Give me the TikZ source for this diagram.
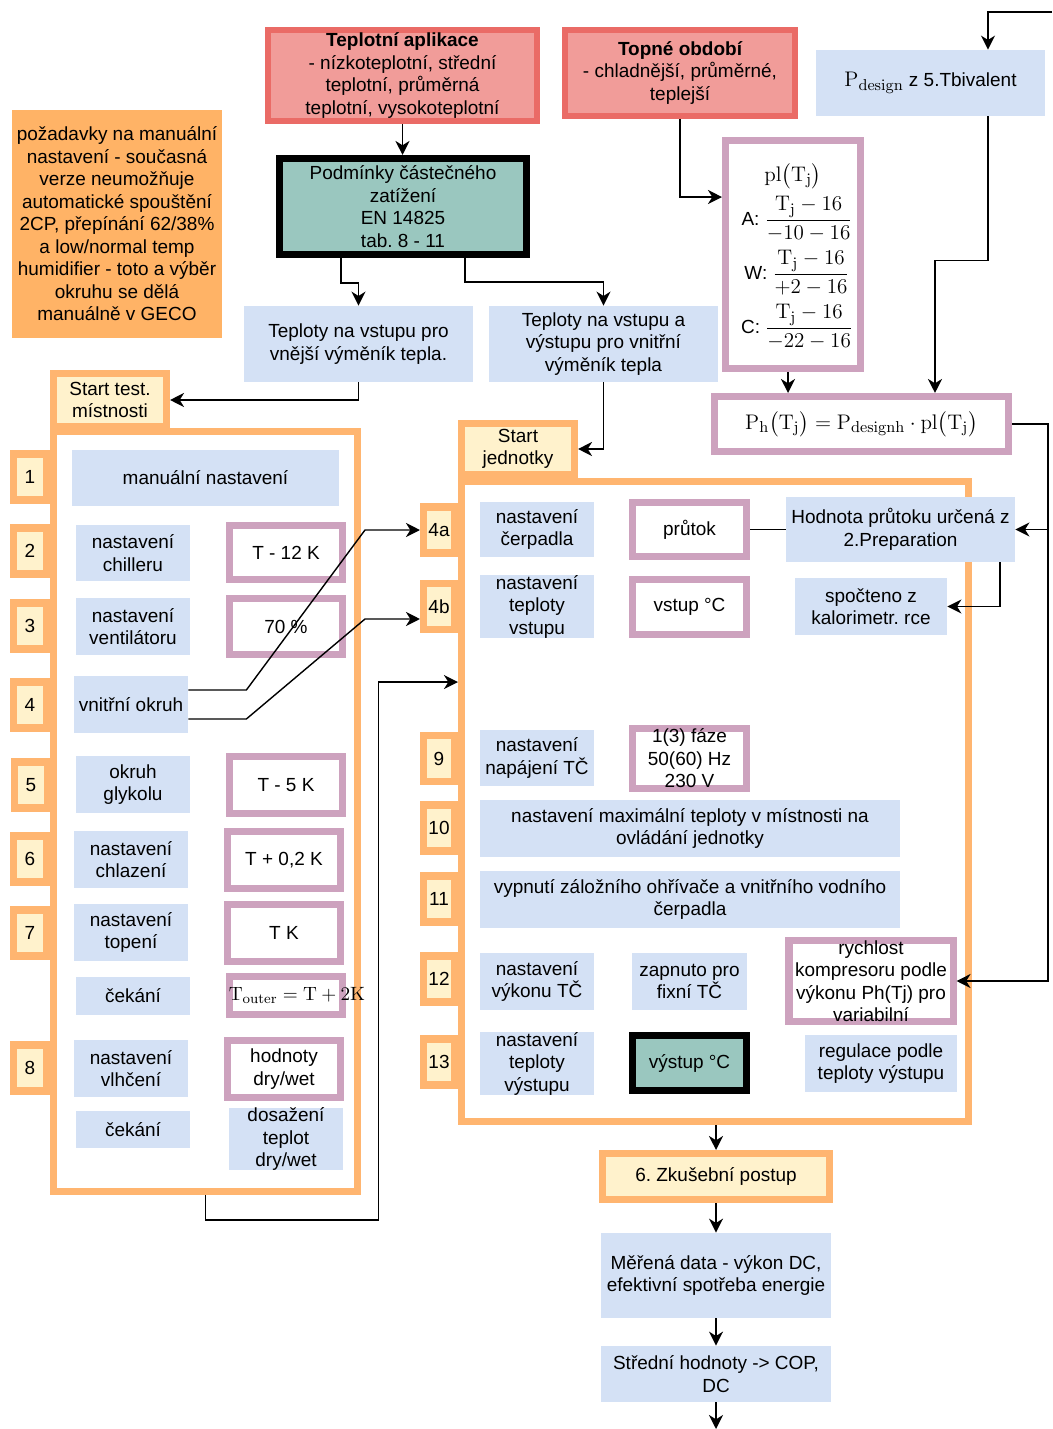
\documentclass[tikz,border=0pt]{standalone}
\usepackage{amsmath}
\usepackage[no-math]{fontspec}
\setmainfont{Liberation Sans}
\usetikzlibrary{arrows.meta}
\frenchspacing
\definecolor{hpblue}{RGB}{212,225,245}
\definecolor{hppink}{RGB}{205,162,190}
\definecolor{hporange}{RGB}{255,181,112}
\definecolor{hpyellow}{RGB}{255,242,204}
\definecolor{hpred}{RGB}{234,107,102}
\definecolor{hpredfill}{RGB}{241,156,153}
\definecolor{hpteal}{RGB}{154,199,191}
\definecolor{hpnote}{RGB}{255,179,102}
\tikzset{
  every node/.style={font=\fontsize{10.8}{12.8}\selectfont, align=center, inner sep=0pt},
  sz/.style 2 args={minimum width=#1*0.02cm, minimum height=#2*0.02cm},
  cell/.style={fill=hpblue},
  val/.style={draw=hppink, line width=4pt, fill=white},
  tag/.style={draw=hporange, line width=4pt, fill=hpyellow},
  panel/.style={draw=hporange, line width=4pt, fill=white},
  title/.style={draw=hpred, line width=3.5pt, fill=hpredfill},
  cond/.style={draw=black, line width=4pt, fill=hpteal},
}

\begin{document}
\begin{tikzpicture}[x=0.02cm, y=-0.02cm, >={Stealth[length=8pt,width=8pt,inset=2.5pt]}]
\useasboundingbox (0,0) rectangle (1052,1429);
% Inputs
\node[fill=hpnote, sz={210}{228}] (note) at (117,224) {po\v{z}adavky na manuální\\nastavení - současná\\verze neumožňuje\\automatické spouštění\\2CP, přepínání 62/38\%\\a low/normal temp\\humidifier - toto a výběr\\okruhu se dělá\\manuálně v GECO};
\node[title, sz={269}{91}] (tapl) at (402.5,75.5) {{\bfseries Teplotní aplikace}\\- nízkoteplotní, střední\\teplotní, průměrná\\teplotní, vysokoteplotní};
\node[title, sz={230}{86}] (topne) at (680,73) {{\bfseries Topné období}\\- chladnější, průměrné,\\teplejší};
\node[cell, sz={229}{66}] (pdes) at (930.5,83) {{\fontsize{13}{15}\selectfont$\mathrm{P}_{\mathrm{design}}$} z 5.Tbivalent};
\node[cond, sz={247}{96}] (podm) at (403,206.5) {Podmínky částečného\\zatížení\\EN 14825\\tab. 8 - 11};
\node[cell, sz={229}{76}] (tvne) at (358.5,344) {Teploty na vstupu pro\\vnější výměník tepla.};
\node[cell, sz={229}{76}] (tvys) at (603.5,344) {Teploty na vstupu a\\výstupu pro vnitřní\\výměník tepla};

% Part load formulas
\node[val, sz={135}{228}] (form) at (793,254.5) {};
\node (fpl) at (793,176) {\fontsize{12.5}{14}\selectfont$\mathrm{pl}\bigl(\mathrm{T}_\mathrm{j}\bigr)$};
\node (fA) at (797,219) {A: {\fontsize{12.5}{14}\selectfont$\dfrac{\mathrm{T}_\mathrm{j} - 16}{-10 - 16}$}};
\node (fW) at (797,273) {W: {\fontsize{12.5}{14}\selectfont$\dfrac{\mathrm{T}_\mathrm{j} - 16}{+2 - 16}$}};
\node (fC) at (797,327) {C: {\fontsize{12.5}{14}\selectfont$\dfrac{\mathrm{T}_\mathrm{j} - 16}{-22 - 16}$}};
\node[val, sz={294}{55}] (ph) at (861.5,424) {\fontsize{13}{15}\selectfont$\mathrm{P}_\mathrm{h}\bigl(\mathrm{T}_\mathrm{j}\bigr) = \mathrm{P}_\mathrm{designh}\cdot\mathrm{pl}\bigl(\mathrm{T}_\mathrm{j}\bigr)$};

% Left panel
\node[panel, sz={304}{760}] (lbox) at (205.5,811.5) {};
\node[tag, sz={113}{53}] (startL) at (110,400) {Start test.\\místnosti};
\node[tag, sz={33}{46}] (nl1) at (30,477) {1};
\node[tag, sz={33}{46}] (nl2) at (30,551) {2};
\node[tag, sz={33}{46}] (nl3) at (30,626) {3};
\node[tag, sz={33}{46}] (nl4) at (30,705) {4};
\node[tag, sz={33}{46}] (nl5) at (31,785) {5};
\node[tag, sz={33}{46}] (nl6) at (30,859) {6};
\node[tag, sz={33}{46}] (nl7) at (30,933) {7};
\node[tag, sz={33}{46}] (nl8) at (30,1068) {8};
\node[cell, sz={267}{56}] (man) at (205.5,478) {manuální nastavení};
\node[cell, sz={114}{56}] (chil) at (133,553) {nastavení\\chilleru};
\node[val, sz={113}{54}] (chilv) at (286,552.5) {T - 12 K};
\node[cell, sz={114}{57}] (vent) at (133,626.5) {nastavení\\ventilátoru};
\node[val, sz={113}{56}] (ventv) at (286,626.5) {70 \%};
\node[cell, sz={114}{57}] (vok) at (131,704.5) {vnitřní okruh};
\node[cell, sz={114}{57}] (glyk) at (133,784.5) {okruh\\glykolu};
\node[val, sz={113}{57}] (glykv) at (286,785) {T - 5 K};
\node[cell, sz={114}{57}] (chlaz) at (131,859.5) {nastavení\\chlazení};
\node[val, sz={113}{57}] (chlazv) at (284,860) {T + 0,2 K};
\node[cell, sz={114}{57}] (topen) at (131,932.5) {nastavení\\topení};
\node[val, sz={113}{57}] (topenv) at (284,933) {T K};
\node[cell, sz={114}{38}] (cek1) at (133,996) {čekání};
\node[val, sz={113}{38}] (cek1v) at (286,995.5) {\makebox[0pt]{\hspace{0.44cm}\fontsize{11}{13}\selectfont$\mathrm{T}_\mathrm{outer} = \mathrm{T} + \mathrm{2K}$}};
\node[cell, sz={114}{57}] (vlh) at (131,1068.5) {nastavení\\vlhčení};
\node[val, sz={113}{57}] (vlhv) at (284,1069) {hodnoty\\dry/wet};
\node[cell, sz={114}{37}] (cek2) at (133,1129.5) {čekání};
\node[cell, sz={114}{58}] (cek2v) at (286,1139) {dosažení\\teplot\\dry/wet};

% Right panel
\node[panel, sz={507}{640}] (rbox) at (715,801.5) {};
\node[tag, sz={113}{51}] (startR) at (518,449) {Start\\jednotky};
\node[tag, sz={31}{46}] (n4a) at (439,530) {4a};
\node[tag, sz={31}{46}] (n4b) at (439,606.5) {4b};
\node[tag, sz={31}{46}] (n9) at (439,758.5) {9};
\node[tag, sz={31}{46}] (n10) at (439,828) {10};
\node[tag, sz={31}{46}] (n11) at (439,899) {11};
\node[tag, sz={31}{46}] (n12) at (439,979) {12};
\node[tag, sz={31}{46}] (n13) at (439,1062) {13};
\node[cell, sz={114}{55}] (cerp) at (537,529.5) {nastavení\\čerpadla};
\node[val, sz={114}{54}] (prut) at (689.5,529.5) {průtok};
\node[cell, sz={229}{65}] (hod) at (900.5,529.5) {Hodnota průtoku určená z\\2.Preparation};
\node[cell, sz={114}{57}] (tvst) at (537,606.5) {nastavení\\teploty\\vstupu};
\node[val, sz={114}{55}] (vstup) at (689.5,607) {vstup °C};
\node[cell, sz={152}{57}] (spoc) at (871,606.5) {spočteno z\\kalorimetr. rce};
\node[cell, sz={114}{56}] (napa) at (537,758) {nastavení\\napájení TČ};
\node[val, sz={114}{56}] (faze) at (689.5,758.5) {1(3) fáze\\50(60) Hz\\230 V};
\node[cell, sz={420}{57}] (maxt) at (690,828.5) {nastavení maximální teploty v místnosti na\\ovládání jednotky};
\node[cell, sz={420}{57}] (vyp) at (690,899.5) {vypnutí záložního ohřívače a vnitřního vodního\\čerpadla};
\node[cell, sz={114}{57}] (vyk) at (537,981.5) {nastavení\\výkonu TČ};
\node[cell, sz={115}{57}] (fix) at (689.5,981.5) {zapnuto pro\\fixní TČ};
\node[val, sz={164}{68}] (rychl) at (871,981) {rychlost\\kompresoru podle\\výkonu Ph(Tj) pro\\variabilní};
\node[cell, sz={114}{57}] (tvys2) at (537,1063.5) {nastavení\\teploty\\výstupu};
\node[cond, sz={114}{55}] (vystup) at (689.5,1063) {výstup °C};
\node[cell, sz={152}{57}] (reg) at (881,1063.5) {regulace podle\\teploty výstupu};

% Test procedure
\node[tag, sz={227}{46}] (zk) at (716,1176.5) {6. Zkušební postup};
\node[cell, sz={230}{85}] (mer) at (716,1275.5) {Měřená data - výkon DC,\\efektivní spotřeba energie};
\node[cell, sz={230}{56}] (str) at (716,1374) {Střední hodnoty -> COP,\\DC};
\coordinate (inR) at (1052,12);
\coordinate (outB) at (716,1429);

% Connectors
\draw[->, thick] (tapl.south) -- (tapl.south |- podm.north);
\draw[->, thick] ([xshift=-1.24cm]podm.south) -- ++(0,25) -| (tvne.north);
\draw[->, thick] ([xshift=1.24cm]podm.south) -- ++(0,24) -| (tvys.north);
\draw[->, thick] (topne.south) |- ([yshift=1.15cm]form.west);
\draw[->, thick] (inR) -| ([xshift=1.15cm]pdes.north);
\draw[->, thick] ([xshift=1.15cm]pdes.south) -- ++(0,144) -| ([xshift=1.47cm]ph.north);
\draw[->, thick] ([xshift=-0.1cm]form.south) -- ([xshift=-0.1cm]form.south |- ph.north);
\draw[->, thick] (ph.east) -- ++(36,0) coordinate (rbend) |- (rychl.east);
\draw[->, thick] (hod.east -| rbend) -- (hod.east);
\draw[->, thick] (tvne.south) |- (startL.east);
\draw[->, thick] (tvys.south) |- (startR.east);
\draw[->, thick] ([yshift=0.29cm]vok.east) -- ++(58,0) -- ([xshift=-1.1cm]n4a.west) -- (n4a.west);
\draw[->, thick] ([yshift=-0.29cm]vok.east) -- ++(58,0) -- ([xshift=-1.1cm,yshift=-0.25cm]n4b.west) -- ([yshift=-0.25cm]n4b.west);
\draw[->, thick] (lbox.south) -- ++(0,25) -- ++(173,0) |- ([yshift=2.39cm]rbox.west);
\draw[thick] (hod.west) -- (prut.east);
\draw[->, thick] ([xshift=1.99cm]hod.south) |- (spoc.east);
\draw[->, thick] (zk.north |- rbox.south) -- (zk.north);
\draw[->, thick] (zk.south) -- (mer.north);
\draw[->, thick] (mer.south) -- (str.north);
\draw[->, thick] (str.south) -- (outB);
\end{tikzpicture}
\end{document}
